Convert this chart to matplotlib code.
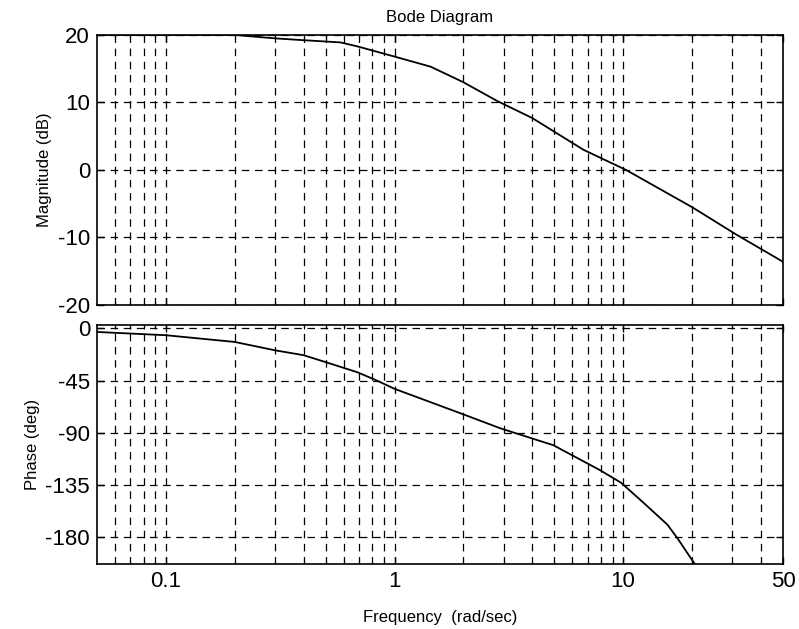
import matplotlib
matplotlib.use('Agg')
import matplotlib.pyplot as plt
from matplotlib.ticker import FixedLocator, NullFormatter

plt.rcParams['font.family'] = ['Liberation Sans', 'DejaVu Sans']
plt.rcParams['axes.unicode_minus'] = False

# values
freq_mag = [0.05, 0.2, 0.3, 0.39, 0.58, 0.69, 1.0, 1.44, 2.0, 2.82, 4.0, 6.7, 10.3, 20.0, 31.0, 50.0]
mag_db = [20.0, 20.0, 19.5, 19.25, 18.9, 18.3, 16.8, 15.3, 13.0, 10.2, 7.7, 3.0, 0.0, -5.5, -9.5, -13.6]

freq_ph = [0.05, 0.1, 0.2, 0.3, 0.4, 0.5, 0.69, 0.84, 1.0, 2.0, 2.9, 4.95, 7.9, 9.8, 12.4, 15.6, 17.3, 20.4, 23.0]
phase_deg = [-3, -5.8, -11.6, -18.8, -23, -29, -37.8, -45, -52, -74, -86, -100.6, -122, -133, -151, -169, -181, -202, -225]

x_major = [0.1, 1, 10, 50]
x_labels = ['0.1', '1', '10', '50']
x_minor = [0.06, 0.07, 0.08, 0.09, 0.2, 0.3, 0.4, 0.5, 0.6, 0.7, 0.8, 0.9,
           2, 3, 4, 5, 6, 7, 8, 9, 20, 30, 40]
mag_ticks = [-20, -10, 0, 10, 20]
phase_ticks = [0, -45, -90, -135, -180]

fig = plt.figure(figsize=(7.99, 6.29), dpi=100)
ax1 = fig.add_axes([0.1214, 0.5151, 0.8586, 0.4293])
ax2 = fig.add_axes([0.1214, 0.1033, 0.8586, 0.380])

grid_kw = dict(color='black', linewidth=0.9, linestyle=(0, (6, 4.5)))

for ax in (ax1, ax2):
    ax.set_xscale('log')
    ax.set_xlim(0.05, 50)
    ax.xaxis.set_major_locator(FixedLocator(x_major))
    ax.xaxis.set_minor_locator(FixedLocator(x_minor))
    ax.xaxis.set_minor_formatter(NullFormatter())
    ax.grid(True, which='both', axis='x', **grid_kw)
    ax.grid(True, which='major', axis='y', **grid_kw)
    ax.tick_params(which='both', direction='in', top=True, right=True,
                   color='black', labelsize=16, pad=5)
    ax.tick_params(which='major', length=5, width=1)
    ax.tick_params(which='minor', length=3, width=0.8)
    for s in ax.spines.values():
        s.set_linewidth(1.2)
        s.set_color('black')

ax1.plot(freq_mag, mag_db, color='black', linewidth=1.3)
ax1.set_ylim(-20, 20)
ax1.set_yticks(mag_ticks)
ax1.set_xticklabels([])
ax1.set_ylabel('Magnitude (dB)', fontsize=12)
ax1.set_title('Bode Diagram', fontsize=12, pad=9)

ax2.plot(freq_ph, phase_deg, color='black', linewidth=1.3)
ax2.set_ylim(-203, 3)
ax2.set_yticks(phase_ticks)
ax2.set_xticklabels(x_labels)
ax2.set_ylabel('Phase (deg)', fontsize=12)
ax2.set_xlabel('Frequency  (rad/sec)', fontsize=12, labelpad=13)

fig.savefig('out.png', dpi=100, facecolor='white')
